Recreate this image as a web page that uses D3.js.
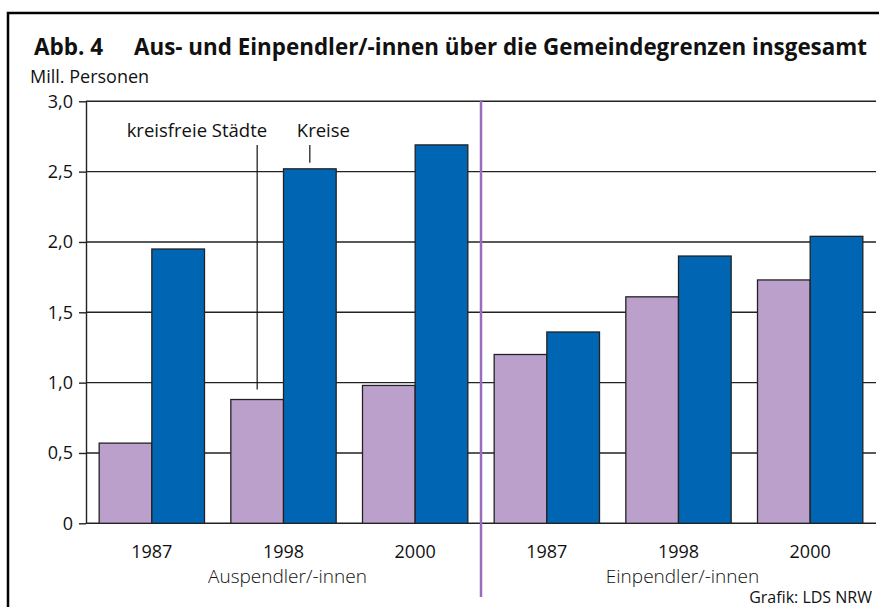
<!DOCTYPE html>
<html lang="de">
<head>
<meta charset="utf-8">
<title>Abb. 4 Aus- und Einpendler/-innen</title>
<script src="https://d3js.org/d3.v7.min.js"></script>
<style>
    body { margin: 0; background: #fff; }
    svg { display: block; }
    text { font-family: 'Open Sans', 'Noto Sans', sans-serif; fill: #111; }
</style>
</head>
<body>
<svg id="chart"></svg>
<script>
    // Data (Mill. Personen)
    const groups = ["Auspendler/-innen", "Einpendler/-innen"];
    const years = ["1987", "1998", "2000"];
    const series = ["kreisfreie Städte", "Kreise"];
    const kreisfreieStaedte = [0.57, 0.88, 0.98, 1.20, 1.61, 1.73];
    const kreise = [1.95, 2.52, 2.69, 1.36, 1.90, 2.04];
    const yTicks = [0, 0.5, 1.0, 1.5, 2.0, 2.5, 3.0];

    const WIDTH = 879, HEIGHT = 607;
    const colors = { "kreisfreie Städte": "#bba0cb", "Kreise": "#0066b3" };

    // one row per bar group
    const rows = [];
    groups.forEach((g, gi) => years.forEach((yr, yi) => {
        const i = gi * years.length + yi;
        rows.push({ key: g + "|" + yr, group: g, year: yr,
                    values: [kreisfreieStaedte[i], kreise[i]] });
    }));

    const svg = d3.select("#chart").attr("width", WIDTH).attr("height", HEIGHT);

    // outer frame (runs off the right and bottom edge like the source)
    svg.append("rect")
        .attr("x", 8).attr("y", 13)
        .attr("width", 900).attr("height", 700)
        .attr("fill", "none").attr("stroke", "#000").attr("stroke-width", 2.5);

    // title
    svg.append("text").attr("x", 34).attr("y", 55)
        .style("font-size", "22.5px").style("font-weight", 700)
        .text("Abb. 4");
    svg.append("text").attr("x", 134).attr("y", 55)
        .style("font-size", "22.5px").style("font-weight", 700)
        .attr("textLength", 733).attr("lengthAdjust", "spacingAndGlyphs")
        .text("Aus- und Einpendler/-innen über die Gemeindegrenzen insgesamt");
    svg.append("text").attr("x", 30).attr("y", 83)
        .style("font-size", "18px")
        .text("Mill. Personen");

    // scales
    const y = d3.scaleLinear().domain([0, 3]).range([523.3, 101.3]);
    const x0 = d3.scaleBand().domain(rows.map(d => d.key))
        .range([86, 876]).paddingInner(0.2).paddingOuter(0.1);
    const x1 = d3.scaleBand().domain(series).range([0, x0.bandwidth()]);

    // gridlines
    svg.append("g").selectAll("line")
        .data(yTicks)
        .join("line")
        .attr("x1", 86).attr("x2", 876)
        .attr("y1", d => y(d)).attr("y2", d => y(d))
        .attr("stroke", "#222").attr("stroke-width", 1.4);

    // y axis
    const fmt = v => v === 0 ? "0" : d3.format(".1f")(v).replace(".", ",");
    const yAxis = svg.append("g")
        .attr("transform", "translate(86,0)")
        .call(d3.axisLeft(y).tickValues(yTicks).tickFormat(fmt)
            .tickSize(7).tickSizeOuter(0).tickPadding(6));
    yAxis.select(".domain").attr("stroke", "#222").attr("stroke-width", 1.4);
    yAxis.selectAll(".tick line").attr("stroke", "#222").attr("stroke-width", 1.4);
    yAxis.selectAll(".tick text")
        .style("font-size", "18px").attr("fill", "#111")
        .style("font-family", "'Open Sans', sans-serif");

    // bars
    const barGroups = svg.append("g").selectAll("g")
        .data(rows)
        .join("g")
        .attr("transform", d => `translate(${x0(d.key)},0)`);
    barGroups.selectAll("rect")
        .data(d => d.values.map((v, i) => ({ s: series[i], v: v })))
        .join("rect")
        .attr("x", d => x1(d.s))
        .attr("y", d => y(d.v))
        .attr("width", x1.bandwidth())
        .attr("height", d => y(0) - y(d.v))
        .attr("fill", d => colors[d.s])
        .attr("stroke", "#222").attr("stroke-width", 1.3);

    // year labels
    svg.append("g").selectAll("text")
        .data(rows)
        .join("text")
        .attr("x", d => x0(d.key) + x0.bandwidth() / 2)
        .attr("y", 558)
        .attr("text-anchor", "middle")
        .style("font-size", "18px")
        .text(d => d.year);

    // group labels
    groups.forEach(g => {
        const keys = rows.filter(r => r.group === g).map(r => r.key);
        const cx = (x0(keys[0]) + x0(keys[keys.length - 1]) + x0.bandwidth()) / 2;
        svg.append("text")
            .attr("x", cx + 4).attr("y", 583)
            .attr("text-anchor", "middle")
            .style("font-size", "19px").style("font-weight", 300)
            .attr("fill", "#333")
            .text(g);
    });

    // divider between the two groups
    const lastAus = rows.filter(r => r.group === groups[0]).pop().key;
    const firstEin = rows.filter(r => r.group === groups[1])[0].key;
    const divX = (x0(lastAus) + x0.bandwidth() + x0(firstEin)) / 2;
    svg.append("line")
        .attr("x1", divX).attr("x2", divX)
        .attr("y1", y(3) - 1).attr("y2", 597)
        .attr("stroke", "#9a6cbd").attr("stroke-width", 2.5);

    // series annotations, pointing at the 1998 Auspendler bars
    const ref = rows[1];
    const lx0 = x0(ref.key) + x1(series[0]) + x1.bandwidth() / 2;
    const lx1 = x0(ref.key) + x1(series[1]) + x1.bandwidth() / 2;
    const ann = svg.append("g");
    ann.append("line")
        .attr("x1", lx0).attr("x2", lx0)
        .attr("y1", 145).attr("y2", y(ref.values[0]) - 10)
        .attr("stroke", "#111").attr("stroke-width", 1.2);
    ann.append("line")
        .attr("x1", lx1).attr("x2", lx1)
        .attr("y1", 145).attr("y2", y(ref.values[1]) - 6)
        .attr("stroke", "#111").attr("stroke-width", 1.2);
    ann.append("text")
        .attr("x", lx0 + 10).attr("y", 137)
        .attr("text-anchor", "end")
        .style("font-size", "18.5px")
        .text(series[0]);
    ann.append("text")
        .attr("x", lx1 - 13).attr("y", 137)
        .style("font-size", "18.5px")
        .text(series[1]);

    // source
    svg.append("text")
        .attr("x", 872).attr("y", 603)
        .attr("text-anchor", "end")
        .style("font-size", "16px")
        .text("Grafik: LDS NRW");
</script>
</body>
</html>
